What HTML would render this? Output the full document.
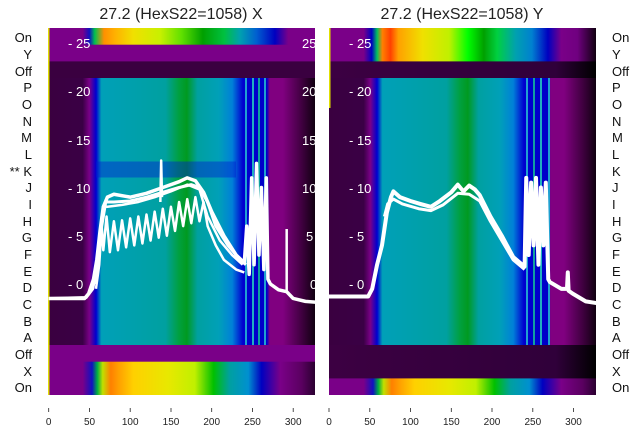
<!DOCTYPE html>
<html><head><meta charset="utf-8"><style>
html,body{margin:0;padding:0;background:#fff;width:640px;height:440px;overflow:hidden}
svg{display:block}
text{font-family:"Liberation Sans","DejaVu Sans",sans-serif}
</style></head><body>
<svg width="640" height="440" viewBox="0 0 640 440" xmlns="http://www.w3.org/2000/svg">
<defs>
<linearGradient id="lt" x1="0" x2="1" y1="0" y2="0">
<stop offset="0" stop-color="#7a0088"/><stop offset="0.13" stop-color="#7a0088"/><stop offset="0.155" stop-color="#1010c0"/><stop offset="0.175" stop-color="#00c050"/><stop offset="0.21" stop-color="#ff9000"/><stop offset="0.25" stop-color="#ffb000"/><stop offset="0.32" stop-color="#f0e000"/><stop offset="0.42" stop-color="#c8f000"/><stop offset="0.5" stop-color="#60e000"/><stop offset="0.58" stop-color="#00a000"/><stop offset="0.66" stop-color="#00c040"/><stop offset="0.72" stop-color="#00a0b0"/><stop offset="0.78" stop-color="#0060d0"/><stop offset="0.85" stop-color="#0000c0"/><stop offset="0.9" stop-color="#7a0088"/><stop offset="1" stop-color="#7a0088"/>
</linearGradient>
<linearGradient id="spec" x1="0" x2="1" y1="0" y2="0">
<stop offset="0" stop-color="#7a0088"/><stop offset="0.13" stop-color="#7a0088"/><stop offset="0.165" stop-color="#1010c0"/><stop offset="0.185" stop-color="#00b040"/><stop offset="0.205" stop-color="#c0e000"/><stop offset="0.235" stop-color="#ff8000"/><stop offset="0.265" stop-color="#ffa000"/><stop offset="0.32" stop-color="#ffd000"/><stop offset="0.45" stop-color="#e8e800"/><stop offset="0.55" stop-color="#c0f000"/><stop offset="0.62" stop-color="#00c000"/><stop offset="0.68" stop-color="#00a0a0"/><stop offset="0.75" stop-color="#0090d0"/><stop offset="0.8" stop-color="#0000c0"/><stop offset="0.87" stop-color="#7a0088"/><stop offset="0.95" stop-color="#5a0060"/><stop offset="1" stop-color="#2a0030"/>
</linearGradient>
<linearGradient id="rt" x1="0" x2="1" y1="0" y2="0">
<stop offset="0" stop-color="#7a0088"/><stop offset="0.13" stop-color="#7a0088"/><stop offset="0.16" stop-color="#0000c0"/><stop offset="0.18" stop-color="#00c060"/><stop offset="0.2" stop-color="#ff8000"/><stop offset="0.23" stop-color="#ff4000"/><stop offset="0.26" stop-color="#ffa000"/><stop offset="0.35" stop-color="#f0e000"/><stop offset="0.45" stop-color="#c0f000"/><stop offset="0.52" stop-color="#00ff00"/><stop offset="0.58" stop-color="#00a000"/><stop offset="0.63" stop-color="#00d040"/><stop offset="0.7" stop-color="#00a0b0"/><stop offset="0.76" stop-color="#0080d0"/><stop offset="0.82" stop-color="#0000c0"/><stop offset="0.87" stop-color="#7a0088"/><stop offset="0.93" stop-color="#700080"/><stop offset="1" stop-color="#100010"/>
</linearGradient>
<linearGradient id="mid" x1="0" x2="1" y1="0" y2="0">
<stop offset="0" stop-color="#3a0040"/><stop offset="0.13" stop-color="#3a0045"/><stop offset="0.155" stop-color="#7a0088"/><stop offset="0.18" stop-color="#0000d0"/><stop offset="0.2" stop-color="#00a0b8"/><stop offset="0.44" stop-color="#00a0a0"/><stop offset="0.49" stop-color="#00a040"/><stop offset="0.52" stop-color="#009a20"/><stop offset="0.56" stop-color="#00a0a0"/><stop offset="0.64" stop-color="#00a0b8"/><stop offset="0.69" stop-color="#0080d8"/><stop offset="0.73" stop-color="#0000d0"/><stop offset="0.82" stop-color="#0000c8"/><stop offset="0.83" stop-color="#800080"/><stop offset="0.88" stop-color="#800080"/><stop offset="0.95" stop-color="#400040"/><stop offset="1" stop-color="#100010"/>
</linearGradient>
<linearGradient id="dark" x1="0" x2="1" y1="0" y2="0">
<stop offset="0" stop-color="#3c0042"/><stop offset="0.85" stop-color="#30003a"/><stop offset="1" stop-color="#000000"/>
</linearGradient>
<clipPath id="cl"><rect x="48" y="28" width="267" height="367"/></clipPath>
<clipPath id="cr"><rect x="329" y="28" width="267" height="367"/></clipPath>
</defs>

<text x="181" y="19" font-size="16" text-anchor="middle" fill="#222">27.2 (HexS22=1058) X</text>
<text x="462" y="19" font-size="16" text-anchor="middle" fill="#222">27.2 (HexS22=1058) Y</text>

<!-- LEFT PANEL -->
<g clip-path="url(#cl)">
<rect x="48" y="28" width="267" height="17" fill="url(#lt)"/>
<rect x="48" y="44.7" width="267" height="17" fill="#7a0088"/>
<rect x="48" y="61.4" width="267" height="17" fill="#3a0040"/>
<rect x="48" y="78" width="267" height="267" fill="url(#mid)"/>
<rect x="96" y="161.5" width="140" height="16" fill="#0020d0" opacity="0.45"/>
<rect x="245" y="78" width="2" height="267" fill="#20a0d0"/>
<rect x="252" y="78" width="2" height="267" fill="#20b0c0"/>
<rect x="258" y="78" width="2" height="267" fill="#10a0a0"/>
<rect x="264" y="78" width="2" height="267" fill="#20a0d0"/>
<rect x="48" y="345" width="267" height="17" fill="#7a0088"/>
<rect x="48" y="361.7" width="267" height="34" fill="url(#spec)"/>
<rect x="48" y="28" width="1.5" height="367" fill="#e0e000"/>
<g fill="#fff" font-size="13">
<text x="68" y="48">- 25</text><text x="68" y="96">- 20</text><text x="68" y="145">- 15</text><text x="68" y="193">- 10</text><text x="68" y="241">- 5</text><text x="68" y="289">- 0</text>
<text x="302" y="48">25</text><text x="302" y="96">20</text><text x="302" y="145">15</text><text x="302" y="193">10</text><text x="306" y="241">5</text><text x="310" y="289">0</text>
</g>
<g transform="translate(48.7,284) scale(0.815,-9.65)" fill="none" stroke="#fff" stroke-width="2.5" stroke-linejoin="round">
<polyline vector-effect="non-scaling-stroke" stroke-width="3.5" points="0,-1.5 44,-1.5 49,-1 55,0.5 59,2.5 63,5.5 67,8 72,9 80,9.3 100,9 120,9.4 140,10 160,10.6 170,11 180,10.7 190,9.5 200,7.5 215,5 230,3 240,2.2 243,6 246,1 249,11 252,2 255,12.5 258,3 261,10 264,1.5 267,11 269,0.5 272,0 282,-0.6 292,-0.8 300,-1.5 315,-1.8 330,-1.9"/>
<polyline vector-effect="non-scaling-stroke" stroke-width="3" points="0,-1.5 46,-1.4 54,-0.5 60,2 65,6 70,8.5 80,8.5 100,8.6 120,9 140,9.5 160,10 175,10.3 185,10 195,8.5 205,6 220,4 235,2.5 242,2"/>
<polyline vector-effect="non-scaling-stroke" points="57,0 62,3 65,7 68,8 72,8 90,8.2 110,8.5 130,9 150,9.6 170,10.3 185,9.8 195,7 210,4.5 225,3 238,2"/>
<polyline vector-effect="non-scaling-stroke" points="58,-0.5 62,2 65,6 67,3.5 71,7 75,3.3 80,6.5 85,3.5 90,6.6 95,3.8 100,6.8 105,4 110,7 115,4.2 120,7.2 125,4.5 130,7.5 135,4.8 140,7.8 145,5 150,8 155,5.5 160,8.5 165,6 170,8.8 175,6.3 180,9 185,6.5 190,8.5 195,6 205,4 215,2.5 230,1.5 240,1.2"/>
<polyline vector-effect="non-scaling-stroke" points="137,8.5 138,12.8 139,9"/>
<polyline vector-effect="non-scaling-stroke" points="292,-0.7 292,5.7"/>
</g>
</g>

<!-- RIGHT PANEL -->
<g clip-path="url(#cr)">
<rect x="329" y="28" width="267" height="34" fill="url(#rt)"/>
<rect x="329" y="61.4" width="267" height="17" fill="url(#dark)"/>
<rect x="329" y="78" width="267" height="267" fill="url(#mid)"/>
<rect x="526" y="78" width="2" height="267" fill="#20a0d0"/>
<rect x="533" y="78" width="2" height="267" fill="#10a0a0"/>
<rect x="540" y="78" width="2" height="267" fill="#20b0c0"/>
<rect x="548" y="78" width="2" height="267" fill="#20a0d0"/>
<rect x="329" y="345" width="267" height="34" fill="url(#dark)"/>
<rect x="329" y="378.4" width="267" height="17" fill="url(#spec)"/>
<rect x="329" y="28" width="1.5" height="80" fill="#e0e000"/>
<g fill="#fff" font-size="13">
<text x="349" y="48">- 25</text><text x="349" y="96">- 20</text><text x="349" y="145">- 15</text><text x="349" y="193">- 10</text><text x="349" y="241">- 5</text><text x="349" y="289">- 0</text>
</g>
<g transform="translate(329,284) scale(0.815,-9.65)" fill="none" stroke="#fff" stroke-width="3" stroke-linejoin="round">
<polyline vector-effect="non-scaling-stroke" stroke-width="4" points="0,-1.3 48,-1.3 53,-0.5 59,2 65,4 71,7.4 76,9 79,9.6 87,9 100,8.6 112,8.3 125,8 136,8.6 150,9.5 158,10.3 165,9.6 172,10.2 179,9.8 185,9.2 198,7 212,5 226,2.8 240,1.8 242,11 245,3 248,10.5 251,4 254,11 257,2 260,10 263,4 266,10.5 269,0.5 271,0.2 285,-0.5 292,-0.5 293,1.2 294,-0.7 299,-1 315,-1.8 330,-2"/>
<polyline vector-effect="non-scaling-stroke" points="68,7 72,8.3 79,8.8 90,8.3 110,7.8 125,7.6 140,8.2 158,9.4 172,9.3 185,8.6 198,6.5 226,2.5 240,1.5"/>
</g>
</g>

<!-- left row labels -->
<g font-size="13" fill="#111" text-anchor="end">
<text x="32" y="42">On</text><text x="32" y="59">Y</text><text x="32" y="76">Off</text><text x="32" y="92">P</text><text x="32" y="109">O</text><text x="32" y="126">N</text><text x="32" y="142">M</text><text x="32" y="159">L</text><text x="32" y="176">** K</text><text x="32" y="192">J</text><text x="32" y="209">I</text><text x="32" y="226">H</text><text x="32" y="242">G</text><text x="32" y="259">F</text><text x="32" y="276">E</text><text x="32" y="292">D</text><text x="32" y="309">C</text><text x="32" y="326">B</text><text x="32" y="342">A</text><text x="32" y="359">Off</text><text x="32" y="376">X</text><text x="32" y="392">On</text>
</g>
<g font-size="13" fill="#111">
<text x="612" y="42">On</text><text x="612" y="59">Y</text><text x="612" y="76">Off</text><text x="612" y="92">P</text><text x="612" y="109">O</text><text x="612" y="126">N</text><text x="612" y="142">M</text><text x="612" y="159">L</text><text x="612" y="176">K</text><text x="612" y="192">J</text><text x="612" y="209">I</text><text x="612" y="226">H</text><text x="612" y="242">G</text><text x="612" y="259">F</text><text x="612" y="276">E</text><text x="612" y="292">D</text><text x="612" y="309">C</text><text x="612" y="326">B</text><text x="612" y="342">A</text><text x="612" y="359">Off</text><text x="612" y="376">X</text><text x="612" y="392">On</text>
</g>

<!-- x ticks -->
<g stroke="#222" stroke-width="0.8">
<line x1="48.7" y1="408" x2="48.7" y2="412"/><line x1="89.5" y1="408" x2="89.5" y2="412"/><line x1="130.2" y1="408" x2="130.2" y2="412"/><line x1="171" y1="408" x2="171" y2="412"/><line x1="211.7" y1="408" x2="211.7" y2="412"/><line x1="252.5" y1="408" x2="252.5" y2="412"/><line x1="293.2" y1="408" x2="293.2" y2="412"/>
<line x1="329" y1="408" x2="329" y2="412"/><line x1="369.8" y1="408" x2="369.8" y2="412"/><line x1="410.5" y1="408" x2="410.5" y2="412"/><line x1="451.3" y1="408" x2="451.3" y2="412"/><line x1="492" y1="408" x2="492" y2="412"/><line x1="532.8" y1="408" x2="532.8" y2="412"/><line x1="573.5" y1="408" x2="573.5" y2="412"/>
</g>
<g font-size="10" fill="#222" text-anchor="middle">
<text x="48.7" y="425">0</text><text x="89.5" y="425">50</text><text x="130.2" y="425">100</text><text x="171" y="425">150</text><text x="211.7" y="425">200</text><text x="252.5" y="425">250</text><text x="293.2" y="425">300</text>
<text x="329" y="425">0</text><text x="369.8" y="425">50</text><text x="410.5" y="425">100</text><text x="451.3" y="425">150</text><text x="492" y="425">200</text><text x="532.8" y="425">250</text><text x="573.5" y="425">300</text>
</g>
</svg>
</body></html>
